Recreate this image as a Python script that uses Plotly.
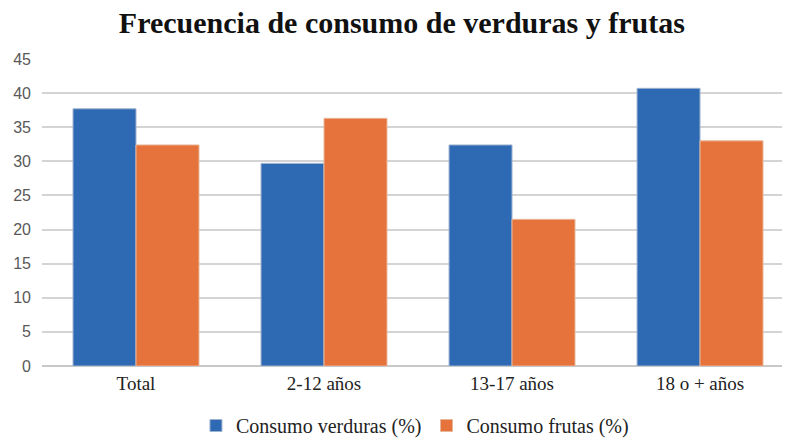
import plotly.graph_objects as go

categories = ["Total", "2-12 años", "13-17 años", "18 o + años"]
verduras = [37.7, 29.7, 32.4, 40.7]
frutas = [32.4, 36.3, 21.5, 33.0]
y_ticks = [0, 5, 10, 15, 20, 25, 30, 35, 40, 45]

fig = go.Figure()
fig.add_trace(go.Bar(x=categories, y=verduras, name="Consumo verduras (%)",
                     marker=dict(color="#2E6AB3", line=dict(color="#9fb3cf", width=1))))
fig.add_trace(go.Bar(x=categories, y=frutas, name="Consumo frutas (%)",
                     marker=dict(color="#E5733B", line=dict(color="#e8b79a", width=1))))

fig.update_layout(
    width=788, height=445,
    margin=dict(l=42, r=6, t=59, b=79),
    paper_bgcolor="white", plot_bgcolor="white",
    barmode="group", bargap=0.33, bargroupgap=0,
    title=dict(text="<b>Frecuencia de consumo de verduras y frutas</b>",
               x=0.51, xanchor="center", y=0.95, yanchor="middle",
               font=dict(family="Liberation Serif", size=30, color="#111111")),
    xaxis=dict(range=[-0.5, 3.436], showgrid=False, showline=False, ticks="",
               ticklabelstandoff=4,
               tickfont=dict(family="Liberation Serif", size=19, color="#222222")),
    yaxis=dict(range=[0, 45], tickvals=y_ticks, showgrid=True, gridcolor="#d4d4d4",
               gridwidth=2, zeroline=True, zerolinecolor="#c8c8c8", zerolinewidth=2,
               showline=False, ticks="", ticklabelstandoff=10,
               tickfont=dict(family="Liberation Sans", size=16, color="#595959")),
    legend=dict(orientation="h", x=0.504, xanchor="center",
                yref="container", y=-0.014, yanchor="bottom",
                font=dict(family="Liberation Serif", size=20, color="#222222"),
                itemwidth=30, traceorder="normal"),
)

fig.write_html("out.html", config={"displayModeBar": False},
               post_script="document.body.style.margin='0';")
